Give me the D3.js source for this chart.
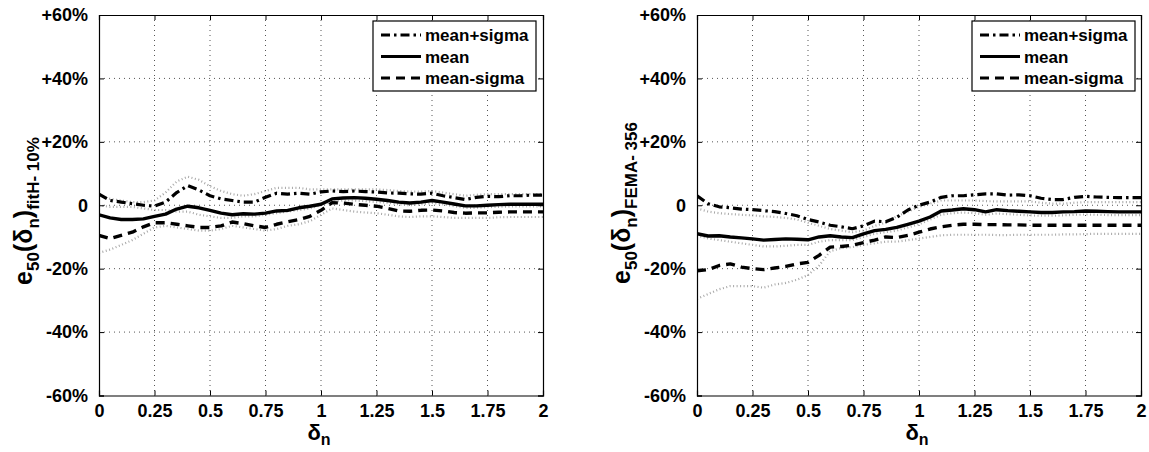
<!DOCTYPE html>
<html>
<head>
<meta charset="utf-8">
<script src="https://cdn.jsdelivr.net/npm/d3@7/dist/d3.min.js"></script>
<style>
  html, body { margin: 0; padding: 0; background: #fff; }
  svg { display: block; }
  text { font-family: "Liberation Sans", Arial, Helvetica, sans-serif; font-weight: bold; fill: #000; }
</style>
</head>
<body>
<svg id="chart" width="1149" height="452"></svg>
<script>
// ---------------- DATA ----------------
const xValues = [0,0.05,0.1,0.15,0.2,0.25,0.3,0.35,0.4,0.45,0.5,0.55,0.6,0.65,0.7,0.75,0.8,0.85,0.9,0.95,
                 1.0,1.05,1.1,1.15,1.2,1.25,1.3,1.35,1.4,1.45,1.5,1.55,1.6,1.65,1.7,1.75,1.8,1.85,1.9,1.95,2.0];

const xTicks = [0,0.25,0.5,0.75,1,1.25,1.5,1.75,2];
const xTickLabels = ["0","0.25","0.5","0.75","1","1.25","1.5","1.75","2"];
const yTicks = [-60,-40,-20,0,20,40,60];
const yTickLabels = ["-60%","-40%","-20%","0","+20%","+40%","+60%"];
const legendLabels = ["mean+sigma","mean","mean-sigma"];

// Left panel: fitH-10%
const leftMeanPlusSigma = [3.5,1.5,1,0.5,0,-0.3,1,4,6.2,4.8,3,2,1.5,1,1,2.5,3.8,3.5,3.8,3.5,
                           4.2,4.5,4.3,4.5,4.3,4.2,3.9,3.8,3.6,3.5,3.8,3,2.4,1.8,2.5,2.8,2.7,3,3,3.2,3.2];
const leftMean = [-3,-4,-4.5,-4.5,-4.3,-3.5,-2.8,-1.2,-0.3,-0.8,-1.6,-2.5,-3,-2.7,-2.8,-2.5,-1.8,-1.6,-0.8,-0.3,
                  0.3,2,2.3,2.4,2.2,1.9,1.5,1,0.7,1,1.5,1,0.4,-0.2,-0.2,0,0.2,0.3,0.3,0.3,0.3];
const leftMeanMinusSigma = [-9.5,-10.5,-9.5,-8.5,-6.8,-5.5,-5.5,-6,-6.5,-7,-7,-6.5,-5.3,-5.8,-6.5,-7,-6,-5.2,-4.5,-3.5,
                            -1.6,0.8,0.7,0.3,0,-0.3,-1,-1.8,-1.9,-1.6,-1.5,-1.8,-2.3,-2.5,-2.4,-2.4,-2.2,-2.1,-2.1,-2.1,-2.1];
const leftGrayUpper = [3,2,1.5,1,1,1.5,4,7.5,9,8,6,4.5,3.5,3,3.5,4.5,5.5,5.5,5.5,5,
                       5,5,5,5,5,5,4.8,4.5,4.3,4.3,4.5,4,3.5,3,3.3,3.5,3.5,3.5,3.5,3.5,3.5];
const leftGrayMiddle = [0,-0.5,-0.5,-0.5,-1,-1.5,-1.5,-2,-2,-3,-3.5,-4,-4,-3.5,-3.5,-3,-2.5,-2,-1.5,-1,
                        0,1,1.5,1.5,1.3,1,0.8,0.3,0,0.3,0.7,0.3,-0.3,-0.8,-0.8,-0.6,-0.5,-0.4,-0.4,-0.4,-0.4];
const leftGrayLower = [-15,-14,-12.5,-11,-9,-7,-6.5,-7,-7.5,-8,-8,-7.5,-6.5,-7,-7.5,-8,-7.5,-6.5,-6,-5,
                       -3,-1,-1.5,-2,-2.3,-2.5,-3,-3.5,-3.7,-3.5,-3.5,-3.7,-4,-4,-4,-4,-3.8,-3.7,-3.7,-3.7,-3.7];

// Right panel: FEMA-356
const rightMeanPlusSigma = [3,0.5,-0.5,-0.8,-1.2,-1.4,-1.7,-2,-2.6,-3.3,-4.5,-5.3,-6.3,-6.8,-7.4,-6.5,-5,-5.2,-3.8,-1.5,
                            0,1,2.5,3,3,3.3,3.6,3.6,3.2,3.3,3,2.2,1.8,1.8,2.5,2.8,2.6,2.5,2.4,2.4,2.4];
const rightMean = [-9,-9.7,-9.6,-10,-10.3,-10.6,-11,-10.8,-10.6,-10.7,-10.9,-10,-9.6,-10,-10.2,-9,-8,-7.6,-7,-6,
                   -5,-3.7,-1.8,-1.5,-1.1,-1.4,-2.1,-1.4,-1.7,-1.9,-2.1,-2.3,-2.3,-2.1,-2,-1.8,-1.9,-2,-2.1,-2.1,-2.1];
const rightMeanMinusSigma = [-20.7,-20.3,-19,-18.5,-19.5,-20,-20.3,-19.8,-19.3,-18.5,-18,-15.8,-13.2,-13,-12.6,-11.8,-11,-10,-10.2,-9.5,
                             -8.5,-7.5,-6.8,-6.3,-6,-6,-6.1,-6.1,-6.2,-6.2,-6.3,-6.3,-6.3,-6.3,-6.3,-6.3,-6.3,-6.3,-6.3,-6.3,-6.3];
const rightGrayUpper = [-1,-2,-2.5,-2.8,-3,-3.2,-3.5,-3.7,-4,-4.5,-5.5,-6.5,-7.5,-8,-8.5,-8,-6.5,-5.5,-3.5,-2,
                        -0.5,0.5,1.5,1.5,1.5,1.5,1.3,1.2,1.2,1.2,1.2,0.8,0.5,0.5,0.8,1,1,1,1,1,1];
const rightGrayMiddle = [-9.5,-10.5,-11,-11.5,-12,-12.5,-13,-13,-12.8,-12.5,-12.5,-11.5,-11,-11,-11,-10,-9,-8.5,-8,-7,
                         -6,-4.5,-3,-2.5,-2.3,-2.5,-3,-2.6,-2.8,-3,-3.2,-3.3,-3.3,-3.2,-3,-2.9,-3,-3.1,-3.1,-3.1,-3.1];
const rightGrayLower = [-29.5,-28,-26.5,-25.5,-25.5,-25.5,-26,-25,-24.5,-23.5,-22,-19,-14.5,-13.5,-13.2,-12.5,-12,-11.5,-11.5,-11,
                        -10.5,-10,-9.5,-9.3,-9.3,-9.3,-9.3,-9.4,-9.4,-9.3,-9.3,-9.3,-9.3,-9.2,-9.2,-9.1,-9,-9,-9,-9,-9];

// ---------------- DRAW ----------------
const svg = d3.select("#chart");

const panels = [
  { left: 99, right: 543, top: 15, bottom: 395.5,
    sub: "fitH- 10%", labelX: 32, labelY: 211,
    gray: [leftGrayUpper, leftGrayMiddle, leftGrayLower],
    series: [leftMeanPlusSigma, leftMean, leftMeanMinusSigma],
    legend: { x: 373, y: 21, w: 163, h: 70 } },
  { left: 697, right: 1141, top: 15, bottom: 395.5,
    sub: "FEMA- 356", labelX: 630, labelY: 203,
    gray: [rightGrayUpper, rightGrayMiddle, rightGrayLower],
    series: [rightMeanPlusSigma, rightMean, rightMeanMinusSigma],
    legend: { x: 972, y: 21, w: 163, h: 70 } }
];

const seriesStyles = [
  { dash: "9 4 2.5 4", width: 3.2 },
  { dash: null, width: 3.4 },
  { dash: "9 6", width: 3.4 }
];

panels.forEach((p, pi) => {
  const x = d3.scaleLinear().domain([0, 2]).range([p.left, p.right]);
  const y = d3.scaleLinear().domain([-60, 60]).range([p.bottom, p.top]);
  const g = svg.append("g");

  const clipId = "clip" + pi;
  svg.append("clipPath").attr("id", clipId)
    .append("rect").attr("x", p.left).attr("y", p.top)
    .attr("width", p.right - p.left).attr("height", p.bottom - p.top);

  // grid
  const grid = g.append("g");
  grid.selectAll("line.vx").data(xTicks.slice(1, -1)).join("line")
    .attr("x1", d => x(d)).attr("x2", d => x(d))
    .attr("y1", p.top).attr("y2", p.bottom)
    .attr("stroke", "#555").attr("stroke-width", 1).attr("stroke-dasharray", "1 4");
  grid.selectAll("line.hy").data(yTicks.slice(1, -1)).join("line")
    .attr("y1", d => y(d)).attr("y2", d => y(d))
    .attr("x1", p.left).attr("x2", p.right)
    .attr("stroke", "#555").attr("stroke-width", 1).attr("stroke-dasharray", "1 4");

  const line = d3.line().x((d, i) => x(xValues[i])).y(d => y(d));
  const plot = g.append("g").attr("clip-path", `url(#${clipId})`);

  // gray dotted envelopes
  p.gray.forEach(arr => {
    plot.append("path").datum(arr).attr("d", line)
      .attr("fill", "none").attr("stroke", "#a8a8a8")
      .attr("stroke-width", 2.2).attr("stroke-dasharray", "1 2.5");
  });

  // black series
  p.series.forEach((arr, si) => {
    const s = seriesStyles[si];
    const path = plot.append("path").datum(arr).attr("d", line)
      .attr("fill", "none").attr("stroke", "#000")
      .attr("stroke-width", s.width).attr("stroke-linejoin", "round");
    if (s.dash) path.attr("stroke-dasharray", s.dash);
  });

  // axes box with inward ticks
  const axB = d3.axisBottom(x).tickValues(xTicks).tickSize(-5).tickFormat((d, i) => xTickLabels[i]).tickPadding(9);
  const axT = d3.axisTop(x).tickValues(xTicks).tickSize(-5).tickFormat("");
  const axL = d3.axisLeft(y).tickValues(yTicks).tickSize(-5).tickFormat((d, i) => yTickLabels[i]).tickPadding(11);
  const axR = d3.axisRight(y).tickValues(yTicks).tickSize(-5).tickFormat("");

  const styleAxis = sel => {
    sel.select(".domain").attr("stroke", "#000").attr("stroke-width", 1.2);
    sel.selectAll(".tick line").attr("stroke", "#000").attr("stroke-width", 1);
    sel.selectAll("text").style("font-family", '"Liberation Sans", Arial, sans-serif')
      .style("font-weight", "bold").style("font-size", "18px").attr("fill", "#000");
  };
  g.append("g").attr("transform", `translate(0,${p.bottom})`).call(axB).call(styleAxis);
  g.append("g").attr("transform", `translate(0,${p.top})`).call(axT).call(styleAxis);
  g.append("g").attr("transform", `translate(${p.left},0)`).call(axL).call(styleAxis);
  g.append("g").attr("transform", `translate(${p.right},0)`).call(axR).call(styleAxis);

  // y label
  const yl = g.append("text")
    .attr("transform", `translate(${p.labelX},${p.labelY}) rotate(-90)`)
    .attr("text-anchor", "middle").style("font-size", "25px");
  yl.append("tspan").text("e");
  yl.append("tspan").text("50").style("font-size", "17px").attr("dy", 7);
  yl.append("tspan").text("(δ").attr("dy", -7);
  yl.append("tspan").text("n").style("font-size", "17px").attr("dy", 7);
  yl.append("tspan").text(")").attr("dy", -7);
  yl.append("tspan").text(p.sub).style("font-size", "17px").attr("dy", 7);

  // x label
  const xl = g.append("text")
    .attr("x", (p.left + p.right) / 2 - 2).attr("y", 440)
    .attr("text-anchor", "middle").style("font-size", "22px");
  xl.append("tspan").text("δ");
  xl.append("tspan").text("n").style("font-size", "16px").attr("dy", 5);

  // legend
  const L = p.legend;
  const lg = g.append("g");
  lg.append("rect").attr("x", L.x).attr("y", L.y).attr("width", L.w).attr("height", L.h)
    .attr("fill", "#fff").attr("stroke", "#000").attr("stroke-width", 1.2);
  legendLabels.forEach((lab, i) => {
    const ly = L.y + 14 + i * 21.5;
    const s = seriesStyles[i];
    const ln = lg.append("line").attr("x1", L.x + 8).attr("x2", L.x + 48)
      .attr("y1", ly).attr("y2", ly).attr("stroke", "#000").attr("stroke-width", 3);
    if (s.dash) ln.attr("stroke-dasharray", s.dash);
    lg.append("text").attr("x", L.x + 52).attr("y", ly + 6)
      .style("font-size", "17px").text(lab);
  });
});
</script>
</body>
</html>
